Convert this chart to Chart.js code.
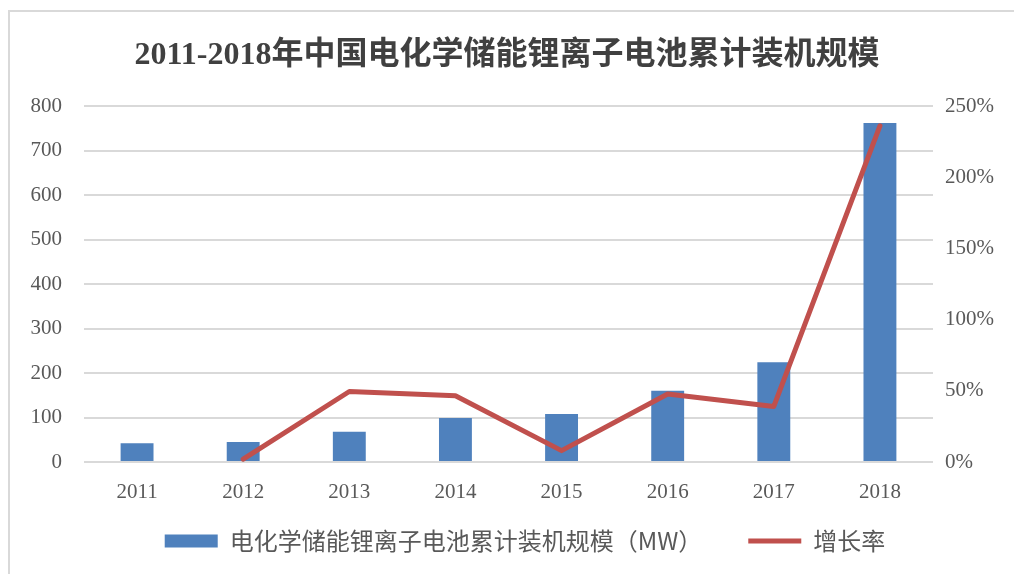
<!DOCTYPE html>
<html>
<head>
<meta charset="utf-8">
<script src="https://cdn.jsdelivr.net/npm/chart.js@4.4.0/dist/chart.umd.min.js"></script>
<style>
    html, body { margin: 0; padding: 0; background: #fff; }
    .frame { position: absolute; left: 8px; top: 10px; width: 1030px; height: 600px; border: 2px solid #d9d9d9; }
    .wrap { position: absolute; left: 0; top: 0; width: 1014px; height: 574px; }
</style>
</head>
<body>
<div class="frame"></div>
<div class="wrap"><canvas id="chart"></canvas></div>
<script>
// --- data ---
const years = ['2011', '2012', '2013', '2014', '2015', '2016', '2017', '2018'];
const capacity = [42, 45, 68, 99, 108, 160, 224, 762];          // MW
const growth = [null, 2, 49.5, 46.5, 8, 47.7, 39, 236];          // %
const leftTicks = [0, 100, 200, 300, 400, 500, 600, 700, 800];
const rightTicks = [0, 50, 100, 150, 200, 250];

const serif = '"Liberation Serif", "Times New Roman", "Noto Sans CJK SC", serif';
const labelColor = '#595959';
const gridColor = '#d9d9d9';

// legend sits a bit right of centre in the original
const legendShift = {
    id: 'legendShift',
    afterLayout(chart) {
        chart.legend.left += 18;
        chart.legend.right += 18;
    }
};

const ctx = document.getElementById('chart');
new Chart(ctx, {
    data: {
        labels: years,
        datasets: [{
            type: 'line',
            label: '增长率',
            data: growth,
            yAxisID: 'y1',
            borderColor: '#C0504D',
            backgroundColor: '#C0504D',
            borderWidth: 5,
            borderCapStyle: 'round',
            borderJoinStyle: 'round',
            pointRadius: 0,
            pointStyle: 'line',
            tension: 0,
            order: 0
        }, {
            type: 'bar',
            label: '电化学储能锂离子电池累计装机规模（MW）\u3000\u3000',
            data: capacity,
            yAxisID: 'y',
            backgroundColor: '#4F81BD',
            borderWidth: 0,
            pointStyle: 'rect',
            barPercentage: 0.31,
            categoryPercentage: 1,
            order: 1
        }]
    },
    plugins: [legendShift],
    options: {
        responsive: true,
        maintainAspectRatio: false,
        animation: false,
        layout: { padding: { left: 0, right: 0, top: 0, bottom: 11 } },
        plugins: {
            title: {
                display: true,
                text: '2011-2018年中国电化学储能锂离子电池累计装机规模',
                color: '#404040',
                font: { family: serif, size: 32, weight: 'bold' },
                padding: { top: 37, bottom: 30.6 }
            },
            legend: {
                position: 'bottom',
                reverse: true,
                labels: {
                    usePointStyle: true,
                    pointStyleWidth: 53,
                    boxHeight: 13,
                    color: labelColor,
                    padding: 10,
                    font: { family: '"Noto Sans CJK SC", sans-serif', size: 24 }
                }
            },
            tooltip: { enabled: false }
        },
        scales: {
            x: {
                grid: { display: false },
                border: { display: false },
                ticks: { color: labelColor, padding: 10, font: { family: serif, size: 21 } },
                afterFit: (scale) => { scale.height = 57; }
            },
            y: {
                position: 'left',
                min: 0,
                max: 800,
                afterBuildTicks: (scale) => { scale.ticks = leftTicks.map(v => ({ value: v })); },
                grid: { color: gridColor, lineWidth: 2, drawTicks: false },
                border: { display: false },
                ticks: { color: labelColor, padding: 22, font: { family: serif, size: 21 } },
                afterFit: (scale) => { scale.width = 84; }
            },
            y1: {
                position: 'right',
                min: 0,
                max: 250,
                afterBuildTicks: (scale) => { scale.ticks = rightTicks.map(v => ({ value: v })); },
                grid: { display: false, drawTicks: false },
                border: { display: false },
                ticks: {
                    color: labelColor,
                    padding: 12,
                    font: { family: serif, size: 21 },
                    callback: (value) => value + '%'
                },
                afterFit: (scale) => { scale.width = 81; }
            }
        }
    }
});
</script>
</body>
</html>
